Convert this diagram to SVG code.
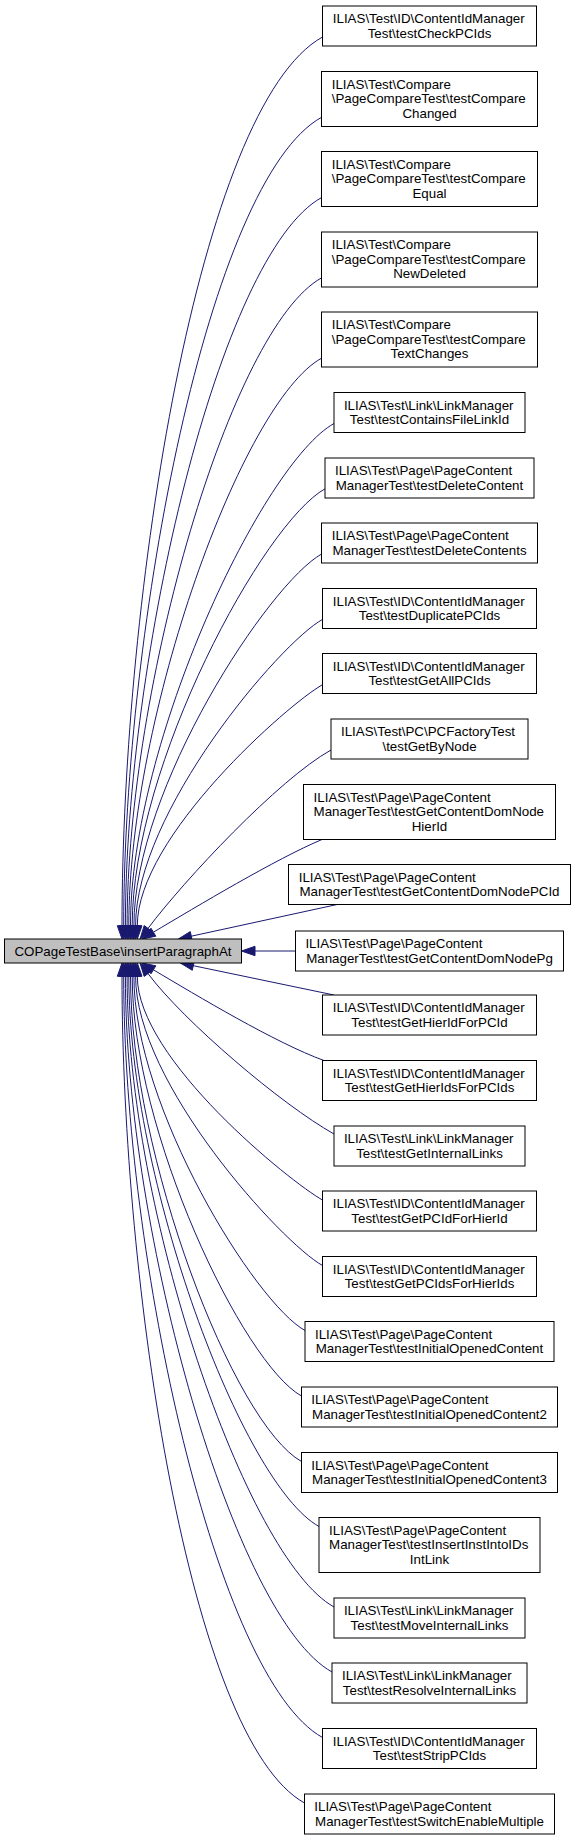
<svg xmlns="http://www.w3.org/2000/svg" width="575" height="1843" viewBox="0 0 575 1843">
<style>
text{font-family:"Liberation Sans",Arial,Helvetica,sans-serif;font-size:13.33px;fill:#000}
.n rect{fill:#fff;stroke:#000;stroke-width:1}
.root rect{fill:#bfbfbf;stroke:#000;stroke-width:1}
.m{text-anchor:middle}
#edges path{fill:none;stroke:#191970;stroke-width:1}
#edges polygon{fill:#191970;stroke:#191970;stroke-width:1}
</style>
<rect width="575" height="1843" fill="#fff"/>
<g id="edges">
<path d="M322.5,37 C198.2,106.1 122,596.9 122,925.7"/><polygon points="117.3,925.7 122,939 126.7,925.7"/>
<path d="M321.5,117.3 C208.5,180.1 123.7,626.6 123.7,925.7"/><polygon points="119,925.7 123.7,939 128.4,925.7"/>
<path d="M321.5,197.6 C219.7,254.2 125.4,656.3 125.4,925.7"/><polygon points="120.7,925.7 125.4,939 130.1,925.7"/>
<path d="M321.5,277.9 C231,328.3 127.1,686 127.1,925.7"/><polygon points="122.4,925.7 127.1,939 131.8,925.7"/>
<path d="M321.5,358.2 C242.1,402.3 128.8,715.7 128.8,925.7"/><polygon points="124.1,925.7 128.8,939 133.5,925.7"/>
<path d="M334,423.5 C263.7,462.6 130.5,739.9 130.5,925.7"/><polygon points="125.8,925.7 130.5,939 135.2,925.7"/>
<path d="M325,488.8 C263.9,522.8 132.2,764 132.2,925.7"/><polygon points="127.5,925.7 132.2,939 136.9,925.7"/>
<path d="M321.5,554.1 C269.5,583 133.9,788.2 133.9,925.7"/><polygon points="129.2,925.7 133.9,939 138.6,925.7"/>
<path d="M322.5,619.4 C279.7,643.2 135.6,812.4 135.6,925.7"/><polygon points="130.9,925.7 135.6,939 140.3,925.7"/>
<path d="M322.5,684.7 C288.8,703.5 137.3,836.5 137.3,925.7"/><polygon points="132.6,925.7 137.3,939 142,925.7"/>
<path d="M331,750 C278.6,779.2 184,880.4 148,928.4"/><polygon points="144.2,925.6 140,939 151.8,931.2"/>
<path d="M322,839.5 C276,858.8 196.4,906.7 153.4,932.2"/><polygon points="151,928.2 142,939 155.8,936.2"/>
<path d="M337.2,904.5 L191.3,936.2"/><polygon points="190.3,931.6 178.3,939 192.3,940.8"/>
<path d="M295.5,951 L255,951"/><polygon points="255,946.3 241.5,951 255,955.7"/>
<path d="M334,995 L193.3,965.7"/><polygon points="194.3,961.1 180.3,963 192.3,970.3"/>
<path d="M324,1060.5 C276,1043.2 196.4,995.3 153.4,969.8"/><polygon points="151,973.8 142,963 155.8,965.8"/>
<path d="M334,1134 C281.6,1104.6 184,1021.6 148,973.6"/><polygon points="144.2,976.4 140,963 151.8,970.8"/>
<path d="M322.5,1200 C291.2,1182.7 137.3,1059.1 137.3,976.3"/><polygon points="132.6,976.3 137.3,963 142,976.3"/>
<path d="M322.5,1265.5 C282,1242.9 135.6,1083.3 135.6,976.3"/><polygon points="130.9,976.3 135.6,963 140.3,976.3"/>
<path d="M305,1330.5 C255.4,1303.1 133.9,1107.4 133.9,976.3"/><polygon points="129.2,976.3 133.9,963 138.6,976.3"/>
<path d="M301.5,1396 C242.8,1363.3 132.2,1131.6 132.2,976.3"/><polygon points="127.5,976.3 132.2,963 136.9,976.3"/>
<path d="M301.5,1461.5 C233.7,1423.6 130.5,1155.8 130.5,976.3"/><polygon points="125.8,976.3 130.5,963 135.2,976.3"/>
<path d="M319,1526.5 C242.1,1483.8 128.8,1179.9 128.8,976.3"/><polygon points="124.1,976.3 128.8,963 133.5,976.3"/>
<path d="M334,1607 C245.8,1557.9 127.1,1209.6 127.1,976.3"/><polygon points="122.4,976.3 127.1,963 131.8,976.3"/>
<path d="M332,1672 C234.7,1618.1 125.4,1233.8 125.4,976.3"/><polygon points="120.7,976.3 125.4,963 130.1,976.3"/>
<path d="M322.5,1737.5 C216,1678.3 123.7,1257.9 123.7,976.3"/><polygon points="119,976.3 123.7,963 128.4,976.3"/>
<path d="M304.5,1803 C189,1738.6 122,1282.1 122,976.3"/><polygon points="117.3,976.3 122,963 126.7,976.3"/>
</g>
<g id="root" class="root"><rect x="4.5" y="939" width="237" height="24"/><text x="123" y="955.7" class="m">COPageTestBase\insertParagraphAt</text></g>
<g id="node1" class="n"><rect x="322.5" y="6" width="214" height="40"/><text><tspan x="332.8" y="23">ILIAS\Test\ID\ContentIdManager</tspan><tspan x="429.5" y="37.7" class="m">Test\testCheckPCIds</tspan></text></g>
<g id="node2" class="n"><rect x="321.5" y="71.5" width="216" height="55"/><text><tspan x="331.7" y="88.5">ILIAS\Test\Compare</tspan><tspan x="331.7" y="103.2">\PageCompareTest\testCompare</tspan><tspan x="429.5" y="117.8" class="m">Changed</tspan></text></g>
<g id="node3" class="n"><rect x="321.5" y="151.5" width="216" height="55"/><text><tspan x="331.7" y="168.5">ILIAS\Test\Compare</tspan><tspan x="331.7" y="183.2">\PageCompareTest\testCompare</tspan><tspan x="429.5" y="197.8" class="m">Equal</tspan></text></g>
<g id="node4" class="n"><rect x="321.5" y="232" width="216" height="55"/><text><tspan x="331.7" y="249">ILIAS\Test\Compare</tspan><tspan x="331.7" y="263.7">\PageCompareTest\testCompare</tspan><tspan x="429.5" y="278.3" class="m">NewDeleted</tspan></text></g>
<g id="node5" class="n"><rect x="321.5" y="312" width="216" height="55"/><text><tspan x="331.7" y="329">ILIAS\Test\Compare</tspan><tspan x="331.7" y="343.7">\PageCompareTest\testCompare</tspan><tspan x="429.5" y="358.3" class="m">TextChanges</tspan></text></g>
<g id="node6" class="n"><rect x="334" y="392.5" width="191" height="40"/><text><tspan x="343.9" y="409.5">ILIAS\Test\Link\LinkManager</tspan><tspan x="429.5" y="424.2" class="m">Test\testContainsFileLinkId</tspan></text></g>
<g id="node7" class="n"><rect x="325" y="458" width="209" height="40"/><text><tspan x="335" y="475">ILIAS\Test\Page\PageContent</tspan><tspan x="429.5" y="489.7" class="m">ManagerTest\testDeleteContent</tspan></text></g>
<g id="node8" class="n"><rect x="321.5" y="523" width="216" height="40"/><text><tspan x="331.7" y="540">ILIAS\Test\Page\PageContent</tspan><tspan x="429.5" y="554.7" class="m">ManagerTest\testDeleteContents</tspan></text></g>
<g id="node9" class="n"><rect x="322.5" y="588.5" width="214" height="40"/><text><tspan x="332.8" y="605.5">ILIAS\Test\ID\ContentIdManager</tspan><tspan x="429.5" y="620.2" class="m">Test\testDuplicatePCIds</tspan></text></g>
<g id="node10" class="n"><rect x="322.5" y="653.5" width="214" height="40"/><text><tspan x="332.8" y="670.5">ILIAS\Test\ID\ContentIdManager</tspan><tspan x="429.5" y="685.2" class="m">Test\testGetAllPCIds</tspan></text></g>
<g id="node11" class="n"><rect x="331" y="719" width="197" height="40"/><text><tspan x="341" y="736">ILIAS\Test\PC\PCFactoryTest</tspan><tspan x="429.5" y="750.7" class="m">\testGetByNode</tspan></text></g>
<g id="node12" class="n"><rect x="303.5" y="784.5" width="252" height="55"/><text><tspan x="313.6" y="801.5">ILIAS\Test\Page\PageContent</tspan><tspan x="313.6" y="816.2">ManagerTest\testGetContentDomNode</tspan><tspan x="429.5" y="830.8" class="m">HierId</tspan></text></g>
<g id="node13" class="n"><rect x="288.5" y="864.5" width="282" height="40"/><text><tspan x="298.7" y="881.5">ILIAS\Test\Page\PageContent</tspan><tspan x="429.5" y="896.2" class="m">ManagerTest\testGetContentDomNodePCId</tspan></text></g>
<g id="node14" class="n"><rect x="295.5" y="931" width="268" height="40"/><text><tspan x="305.4" y="948">ILIAS\Test\Page\PageContent</tspan><tspan x="429.5" y="962.7" class="m">ManagerTest\testGetContentDomNodePg</tspan></text></g>
<g id="node15" class="n"><rect x="322.5" y="995" width="214" height="40"/><text><tspan x="332.8" y="1012">ILIAS\Test\ID\ContentIdManager</tspan><tspan x="429.5" y="1026.7" class="m">Test\testGetHierIdForPCId</tspan></text></g>
<g id="node16" class="n"><rect x="322.5" y="1060.5" width="214" height="40"/><text><tspan x="332.8" y="1077.5">ILIAS\Test\ID\ContentIdManager</tspan><tspan x="429.5" y="1092.2" class="m">Test\testGetHierIdsForPCIds</tspan></text></g>
<g id="node17" class="n"><rect x="334" y="1126" width="191" height="40"/><text><tspan x="343.9" y="1143">ILIAS\Test\Link\LinkManager</tspan><tspan x="429.5" y="1157.7" class="m">Test\testGetInternalLinks</tspan></text></g>
<g id="node18" class="n"><rect x="322.5" y="1191" width="214" height="40"/><text><tspan x="332.8" y="1208">ILIAS\Test\ID\ContentIdManager</tspan><tspan x="429.5" y="1222.7" class="m">Test\testGetPCIdForHierId</tspan></text></g>
<g id="node19" class="n"><rect x="322.5" y="1256.5" width="214" height="40"/><text><tspan x="332.8" y="1273.5">ILIAS\Test\ID\ContentIdManager</tspan><tspan x="429.5" y="1288.2" class="m">Test\testGetPCIdsForHierIds</tspan></text></g>
<g id="node20" class="n"><rect x="305" y="1321.5" width="249" height="40"/><text><tspan x="315" y="1338.5">ILIAS\Test\Page\PageContent</tspan><tspan x="429.5" y="1353.2" class="m">ManagerTest\testInitialOpenedContent</tspan></text></g>
<g id="node21" class="n"><rect x="301.5" y="1387" width="256" height="40"/><text><tspan x="311.3" y="1404">ILIAS\Test\Page\PageContent</tspan><tspan x="429.5" y="1418.7" class="m">ManagerTest\testInitialOpenedContent2</tspan></text></g>
<g id="node22" class="n"><rect x="301.5" y="1452.5" width="256" height="40"/><text><tspan x="311.3" y="1469.5">ILIAS\Test\Page\PageContent</tspan><tspan x="429.5" y="1484.2" class="m">ManagerTest\testInitialOpenedContent3</tspan></text></g>
<g id="node23" class="n"><rect x="319" y="1517.5" width="221" height="55"/><text><tspan x="329.1" y="1534.5">ILIAS\Test\Page\PageContent</tspan><tspan x="329.1" y="1549.2">ManagerTest\testInsertInstIntoIDs</tspan><tspan x="429.5" y="1563.8" class="m">IntLink</tspan></text></g>
<g id="node24" class="n"><rect x="334" y="1598" width="191" height="40"/><text><tspan x="343.9" y="1615">ILIAS\Test\Link\LinkManager</tspan><tspan x="429.5" y="1629.7" class="m">Test\testMoveInternalLinks</tspan></text></g>
<g id="node25" class="n"><rect x="332" y="1663" width="195" height="40"/><text><tspan x="342" y="1680">ILIAS\Test\Link\LinkManager</tspan><tspan x="429.5" y="1694.7" class="m">Test\testResolveInternalLinks</tspan></text></g>
<g id="node26" class="n"><rect x="322.5" y="1728.5" width="214" height="40"/><text><tspan x="332.8" y="1745.5">ILIAS\Test\ID\ContentIdManager</tspan><tspan x="429.5" y="1760.2" class="m">Test\testStripPCIds</tspan></text></g>
<g id="node27" class="n"><rect x="304.5" y="1794" width="250" height="40"/><text><tspan x="314.3" y="1811">ILIAS\Test\Page\PageContent</tspan><tspan x="429.5" y="1825.7" class="m">ManagerTest\testSwitchEnableMultiple</tspan></text></g>
</svg>
